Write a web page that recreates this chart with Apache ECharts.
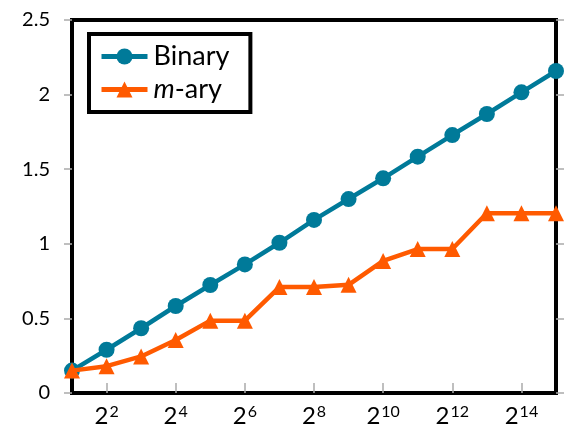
<!DOCTYPE html>
<html>
<head>
<meta charset="utf-8">
<script src="https://cdn.jsdelivr.net/npm/echarts@6/dist/echarts.min.js"></script>
<style>html,body{margin:0;padding:0;background:#fff;}#c{width:566px;height:430px;}</style>
</head>
<body>
<div id="c"></div>
<script>
// x positions are exponents of 2 (n = 2^k)
var exponents = [1,2,3,4,5,6,7,8,9,10,11,12,13,14,15];
var binary = [0.15,0.29,0.434,0.583,0.724,0.862,1.007,1.16,1.30,1.439,1.584,1.729,1.87,2.015,2.158];
var mary   = [0.15,0.18,0.245,0.355,0.485,0.485,0.71,0.71,0.725,0.885,0.965,0.965,1.205,1.205,1.205];
var xTickExponents = [2,4,6,8,10,12,14];
var yTicks = [0,0.5,1,1.5,2,2.5];

function pairs(ys){ return exponents.map(function(e,i){ return [e, ys[i]]; }); }

var chart = echarts.init(document.getElementById('c'));
var font = 'Lato';
chart.setOption({
  animation:false,
  textStyle:{fontFamily:font},
  grid:{left:72,right:10,top:20,bottom:37,show:true,borderColor:'#000',borderWidth:4,containLabel:false},
  legend:{
    left:89, top:34, orient:'vertical',
    borderColor:'#000', borderWidth:4, padding:[9,21,9,10],
    itemWidth:46, itemHeight:20, itemGap:6,
    lineStyle:{width:5},
    textStyle:{fontSize:27,fontFamily:font,color:'#000',padding:[0,0,0,1],
      rich:{i:{fontStyle:'italic',fontSize:27,fontFamily:font},n:{fontSize:27,fontFamily:font}}},
    formatter:function(name){ return name==='m-ary' ? '{i|m}{n|-ary}' : name; },
    data:['Binary','m-ary']
  },
  xAxis:{
    type:'value', min:1, max:15, interval:1,
    axisLine:{show:false},
    splitLine:{show:false},
    axisTick:{show:true,inside:true,length:10,lineStyle:{color:'#aaa',width:1.5},customValues:xTickExponents},
    axisLabel:{
      customValues:xTickExponents, margin:11, color:'#000',
      formatter:function(v){ return '{b|2}{s|'+v+'}'; },
      rich:{b:{fontSize:24,fontFamily:font,color:'#000',verticalAlign:'bottom'},
            s:{fontSize:16,fontFamily:font,color:'#000',verticalAlign:'top',padding:[0,0,8,1]}}
    }
  },
  yAxis:[{
    type:'value', min:0, max:2.5, interval:0.5,
    axisLine:{show:false}, splitLine:{show:false},
    axisTick:{show:true,length:8,lineStyle:{color:'#aaa',width:1.5}},
    axisLabel:{fontSize:20,color:'#000',margin:22,fontFamily:font,
      formatter:function(v){ return String(v); }}
  },{
    type:'value', min:0, max:2.5, interval:0.5, position:'right',
    axisLine:{show:false}, splitLine:{show:false},
    axisTick:{show:true,length:8,lineStyle:{color:'#aaa',width:1.5}},
    axisLabel:{show:false}
  }],
  series:[{
    name:'Binary', type:'line', data:pairs(binary),
    symbol:'circle', symbolSize:16,
    lineStyle:{color:'#007A99',width:4.5}, itemStyle:{color:'#007A99'}, z:2
  },{
    name:'m-ary', type:'line', data:pairs(mary),
    symbol:'triangle', symbolSize:16,
    lineStyle:{color:'#FF5A00',width:4.5}, itemStyle:{color:'#FF5A00'}, z:3
  }]
});
</script>
</body>
</html>
